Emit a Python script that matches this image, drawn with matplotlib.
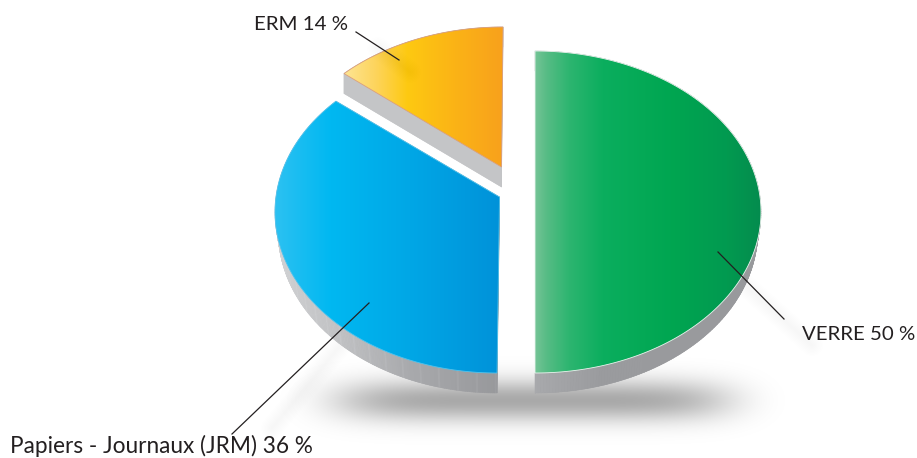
#!/usr/bin/env python3
# exploded "3D" pie: VERRE / JRM / ERM
import numpy as np
import matplotlib
matplotlib.use('Agg')
import matplotlib.pyplot as plt
from matplotlib.collections import PolyCollection
from matplotlib.colors import LinearSegmentedColormap, to_rgb
from matplotlib.patches import Polygon

### DATA ######################################################################
names  = ['VERRE', 'Papiers - Journaux (JRM)', 'ERM']
values = [50, 36, 14]

### SETTINGS ##################################################################
W = 917; H = 458
depth = 20

# one entry per slice: ellipse centre, radii, apex, angle stretch, bottom shrink
centers  = [(535, 212), (497, 212), (503, 188)]
radii    = [(226, 161), (222, 161), (226, 161)]
apexes   = [None, (499.5, 197), (501.5, 167)]
starts   = [90, -90, 134.7]
stretch  = [1.0, 1.03, 0.887]
shrink   = [0.985, 0.985, 1.0]
tops     = [[(0, '#74c496'), (0.05, '#57bc85'), (0.15, '#2db570'), (0.3, '#0bae5e'), (0.6, '#00a651'), (0.85, '#029a50'), (1, '#048c4e')],
            [(0, '#2cc1f2'), (0.25, '#00b8f1'), (0.6, '#00a7e6'), (1, '#0092d9')],
            [(0, '#fde594'), (0.2, '#fdd45c'), (0.4, '#fec911'), (0.7, '#fbb316'), (1, '#f8a11c')]]
sides    = [[(0, '#98999c'), (0.7, '#9a9b9e'), (1, '#a8a9ac')],
            [(0, '#d0d1d3'), (0.25, '#c4c5c7'), (0.6, '#a8a9ac'), (1, '#97989b')],
            [(0, '#c6c7c9'), (1, '#c2c3c5')]]
edges    = ['#e9f5ee', '#4fc3ee', '#dc9f7c']

leaders   = [((718, 252), (784, 319)), ((369, 303), (232, 434)), ((356, 32), (399, 60))]
labels_xy = [(802, 334), (10, 446), (254, 25)]
fontsizes = [14.7, 16.3, 14.7]
###############################################################################

plt.rcParams['font.family'] = ['Lato', 'DejaVu Sans']
fig = plt.figure(figsize=(W/100, H/100), dpi=100)
ax = fig.add_axes([0, 0, 1, 1])
ax.set_xlim(0, W); ax.set_ylim(H, 0); ax.axis('off')


def ramp(stops):
    return LinearSegmentedColormap.from_list('r', [(p, to_rgb(c)) for p, c in stops])


# soft shadow under the pie
yy, xx = np.mgrid[320:458, 240:820]
alpha = 0.34*np.exp(-((xx-532)/197.)**6 - ((yy-400)/21.)**2)
shade = np.zeros(xx.shape + (4,)); shade[..., 3] = alpha
ax.imshow(shade, extent=(240, 820, 458, 320), aspect='auto', zorder=1, interpolation='bilinear')

# faint shadows of the leader lines
for (x0, y0), (x1, y1) in [((345, 340), (272, 428)), ((745, 285), (812, 345))]:
    for lw in np.arange(2, 18, 2):
        ax.plot([x0, x1], [y0, y1], color='k', alpha=0.005, lw=lw, solid_capstyle='round', zorder=1)

for i, v in enumerate(values):
    cx, cy = centers[i]; rx, ry = radii[i]
    sweep = -360*v/sum(values)*stretch[i]
    th = np.radians(np.linspace(starts[i], starts[i]+sweep, 240))
    arc = np.c_[cx+rx*np.cos(th), cy-ry*np.sin(th)]
    pts = arc if apexes[i] is None else np.vstack([arc, apexes[i]])

    # side wall as small quads, grey ramp follows x
    low = np.c_[cx+(pts[:, 0]-cx)*shrink[i], pts[:, 1]+depth]
    quads = []; cols = []
    x_min = pts[:, 0].min(); x_max = pts[:, 0].max()
    side_map = ramp(sides[i])
    n = len(pts)
    for k in range(n):
        j = (k+1) % n
        quads.append([pts[k], pts[j], low[j], low[k]])
        xm = (pts[k, 0]+pts[j, 0])/2
        frac = (xm-x_min)/(x_max-x_min)
        c = np.array(side_map(1-frac if i == 0 else frac))
        if i == 1 and k % 9 == 0:   # faint facets on the blue wall
            c[:3] = np.minimum(c[:3]+0.02, 1)
        cols.append(c)
    ax.add_patch(Polygon(low, closed=True, fc=side_map(0.5), ec='none', zorder=1.5))
    ax.add_collection(PolyCollection(quads, facecolors=cols, edgecolors=cols, linewidths=0.4, zorder=2))

    # top face, horizontal gradient clipped to the slice
    top = Polygon(pts, closed=True, fc='none', ec=edges[i], lw=0.6, zorder=4)
    ax.add_patch(top)
    grad = np.linspace(0, 1, 256).reshape(1, -1)
    im = ax.imshow(grad, cmap=ramp(tops[i]), extent=(x_min, x_max, pts[:, 1].max(), pts[:, 1].min()),
                   aspect='auto', zorder=3, interpolation='bilinear')
    im.set_clip_path(top)

ax.set_xlim(0, W); ax.set_ylim(H, 0)

# small smudge on the yellow slice, under the ERM leader
for lw in np.arange(2, 18, 2):
    ax.plot([378, 410], [48, 72], color='k', alpha=0.003, lw=lw, solid_capstyle='round', zorder=5)

# leader lines and labels
for i, v in enumerate(values):
    (x0, y0), (x1, y1) = leaders[i]
    ax.plot([x0, x1], [y0, y1], color='#231f20', lw=0.9, zorder=6)
    ax.text(labels_xy[i][0], labels_xy[i][1], '%s %d %%' % (names[i], v), fontsize=fontsizes[i],
            color='#231f20', ha='left', va='center', zorder=7)

plt.savefig('out.png', dpi=100)
